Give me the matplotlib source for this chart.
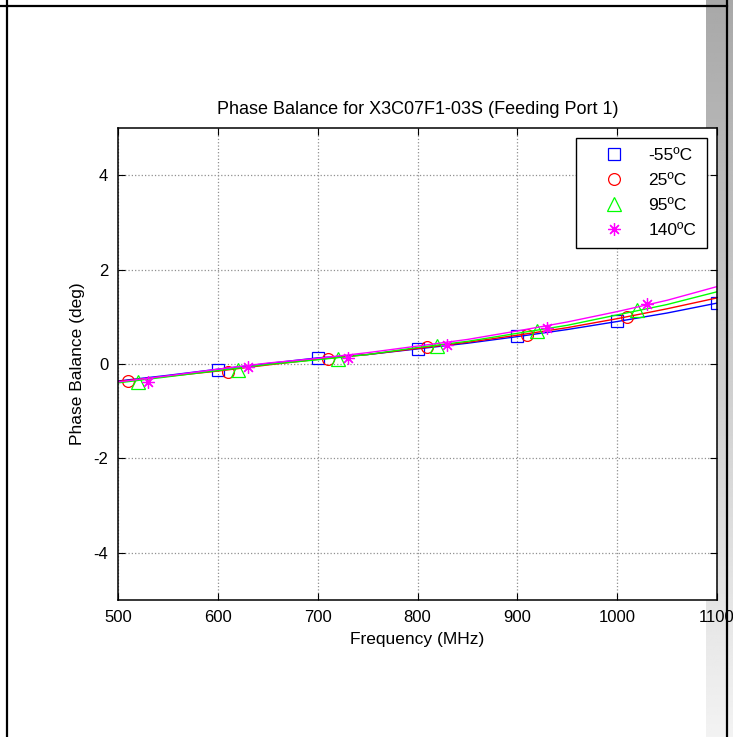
import numpy as np
import matplotlib
matplotlib.use('Agg')
import matplotlib.pyplot as plt
from matplotlib.lines import Line2D

plt.rcParams['font.family'] = ['Liberation Sans', 'DejaVu Sans']
plt.rcParams['axes.unicode_minus'] = False

# line data, every 50 MHz
freq = [500, 550, 600, 650, 700, 750, 800, 850, 900, 950, 1000, 1050, 1100]
pb_m55 = [-0.36, -0.24, -0.11, 0.01, 0.13, 0.20, 0.32, 0.44, 0.58, 0.73, 0.90, 1.08, 1.29]
pb_25  = [-0.37, -0.26, -0.15, -0.02, 0.10, 0.20, 0.33, 0.46, 0.61, 0.77, 0.96, 1.17, 1.40]
pb_95  = [-0.40, -0.27, -0.14, -0.01, 0.09, 0.20, 0.35, 0.48, 0.65, 0.82, 1.04, 1.26, 1.53]
pb_140 = [-0.38, -0.25, -0.11, 0.02, 0.12, 0.24, 0.38, 0.52, 0.70, 0.89, 1.11, 1.35, 1.64]

# marker positions (staggered by 10 MHz per series)
mk_f_m55 = [600, 700, 800, 900, 1000, 1100]
mk_v_m55 = [-0.12, 0.13, 0.32, 0.59, 0.91, 1.29]
mk_f_25  = [510, 610, 710, 810, 910, 1010]
mk_v_25  = [-0.35, -0.17, 0.10, 0.35, 0.62, 1.00]
mk_f_95  = [520, 620, 720, 820, 920, 1020]
mk_v_95  = [-0.38, -0.12, 0.10, 0.38, 0.70, 1.14]
mk_f_140 = [530, 630, 730, 830, 930, 1030]
mk_v_140 = [-0.38, -0.06, 0.12, 0.40, 0.76, 1.27]

labels = ['-55ºC', '25ºC', '95ºC', '140ºC']
colors = ['#0000ff', '#ff0000', '#00ff00', '#ff00ff']
markers = ['s', 'o', '^', (8, 2, 0)]
msizes = [9, 8.5, 9.5, 9]

W, H = 733, 737
fig = plt.figure(figsize=(W / 100, H / 100), dpi=100)

# page decoration in the background
bg = fig.add_axes([0, 0, 1, 1], zorder=0)
bg.set_xlim(0, W)
bg.set_ylim(H, 0)
bg.axis('off')
grad = np.linspace(0.66, 0.95, 256).reshape(-1, 1)
bg.imshow(grad, cmap='gray', vmin=0, vmax=1, aspect='auto',
          extent=[706, W, H, 0], interpolation='bilinear')

ax = fig.add_axes([118 / W, 1 - 600 / H, 599 / W, 472 / H], zorder=1)
ax.set_facecolor('white')

series = [(pb_m55, mk_f_m55, mk_v_m55), (pb_25, mk_f_25, mk_v_25),
          (pb_95, mk_f_95, mk_v_95), (pb_140, mk_f_140, mk_v_140)]
for (vals, mf, mv), c, m, ms in zip(series, colors, markers, msizes):
    ax.plot(freq, vals, color=c, lw=1.0)
    ax.plot(mf, mv, linestyle='none', marker=m, markersize=ms,
            markerfacecolor='none', markeredgecolor=c, markeredgewidth=0.9)

ax.set_xlim(500, 1100)
ax.set_ylim(-5, 5)
ax.set_xticks(range(500, 1101, 100))
ax.set_yticks([-4, -2, 0, 2, 4])
ax.grid(True, linestyle=':', color='#909090', lw=0.9)
ax.tick_params(direction='in', top=True, right=True, length=5, labelsize=12,
               pad=7)
for sp in ax.spines.values():
    sp.set_linewidth(1.1)

ax.set_title('Phase Balance for X3C07F1-03S (Feeding Port 1)', fontsize=13, pad=10)
ax.set_xlabel('Frequency (MHz)', fontsize=12.5, labelpad=5)
ax.set_ylabel('Phase Balance (deg)', fontsize=12.5, labelpad=6)

handles = [Line2D([], [], linestyle='none', marker=m, markersize=ms,
                  markerfacecolor='none', markeredgecolor=c, markeredgewidth=0.9)
           for c, m, ms in zip(colors, markers, msizes)]
leg = ax.legend(handles, labels, loc='upper right', bbox_to_anchor=(0.983, 0.979),
                fancybox=False, edgecolor='black', framealpha=1, fontsize=12.5,
                handlelength=3.15, handletextpad=0.4, labelspacing=0.55,
                borderpad=0.6, borderaxespad=0)
leg.get_frame().set_linewidth(1.0)

# page frame lines on top
fig.add_artist(Line2D([0, 727 / W], [1 - 6 / H, 1 - 6 / H], color='black', lw=1.6, zorder=10))
fig.add_artist(Line2D([7 / W, 7 / W], [0, 1], color='black', lw=1.6, zorder=10))
fig.add_artist(Line2D([727 / W, 727 / W], [0, 1], color='black', lw=1.6, zorder=10))

fig.savefig('out.png', dpi=100)
